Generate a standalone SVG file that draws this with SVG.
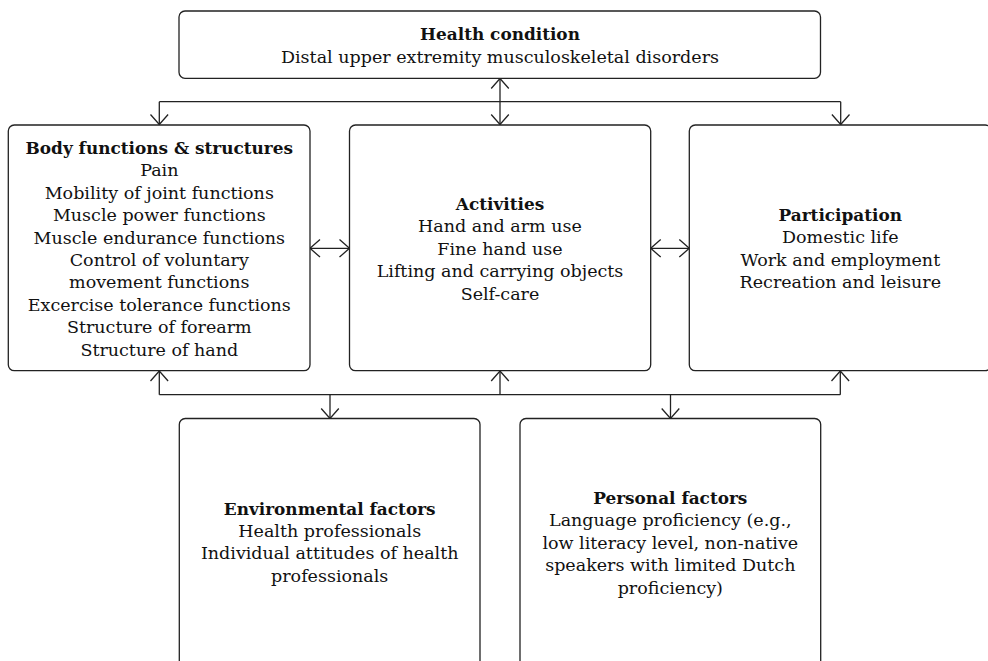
<svg xmlns="http://www.w3.org/2000/svg" width="988" height="661" viewBox="0 0 988 661">
<defs>
<style>
.box{fill:#fff;stroke:#222;stroke-width:1.3}
.ln{fill:none;stroke:#222;stroke-width:1.3}
text{font-family:"DejaVu Serif","Liberation Serif",serif;font-size:17.5px;fill:#111;text-anchor:middle}
.b{font-weight:bold;font-size:16.9px}
</style>
<marker id="ah" markerUnits="userSpaceOnUse" orient="auto-start-reverse" overflow="visible" markerWidth="20" markerHeight="20" refX="0" refY="0">
<path d="M-10,-8.8 L0,0 L-10,8.8" fill="none" stroke="#222" stroke-width="1.3"/>
</marker>
</defs>
<rect width="988" height="661" fill="#fff"/>
<g id="connectors">
<path class="ln" d="M159.3,101.7 H840.7"/>
<path class="ln" d="M159.3,101.7 V124.5" marker-end="url(#ah)"/>
<path class="ln" d="M840.7,101.7 V124.5" marker-end="url(#ah)"/>
<path class="ln" d="M500,78.5 V124.5" marker-start="url(#ah)" marker-end="url(#ah)"/>
<path class="ln" d="M310,248.3 H349.5" marker-start="url(#ah)" marker-end="url(#ah)"/>
<path class="ln" d="M650.7,248.3 H689.3" marker-start="url(#ah)" marker-end="url(#ah)"/>
<path class="ln" d="M159.3,394.7 H840.3"/>
<path class="ln" d="M159.3,394.7 V371" marker-end="url(#ah)"/>
<path class="ln" d="M500,394.7 V371" marker-end="url(#ah)"/>
<path class="ln" d="M840.3,394.7 V371" marker-end="url(#ah)"/>
<path class="ln" d="M330,394.7 V418.5" marker-end="url(#ah)"/>
<path class="ln" d="M670.5,394.7 V418.5" marker-end="url(#ah)"/>
</g>
<g id="health">
<rect class="box" x="179" y="11" width="641.5" height="67.3" rx="6"/>
<text x="500" y="40" class="b">Health condition</text>
<text x="500" y="62.5">Distal upper extremity musculoskeletal disorders</text>
</g>
<g id="body">
<rect class="box" x="8.3" y="125" width="301.7" height="245.7" rx="6"/>
<text x="159.3" y="154" class="b">Body functions &amp; structures</text>
<text x="159.3" y="176.4">Pain</text>
<text x="159.3" y="198.8">Mobility of joint functions</text>
<text x="159.3" y="221.2">Muscle power functions</text>
<text x="159.3" y="243.6">Muscle endurance functions</text>
<text x="159.3" y="266">Control of voluntary</text>
<text x="159.3" y="288.4">movement functions</text>
<text x="159.3" y="310.8">Excercise tolerance functions</text>
<text x="159.3" y="333.2">Structure of forearm</text>
<text x="159.3" y="355.6">Structure of hand</text>
</g>
<g id="activities">
<rect class="box" x="349.5" y="125" width="301.2" height="245.7" rx="6"/>
<text x="500" y="210" class="b">Activities</text>
<text x="500" y="232.4">Hand and arm use</text>
<text x="500" y="254.8">Fine hand use</text>
<text x="500" y="277.2">Lifting and carrying objects</text>
<text x="500" y="299.6">Self-care</text>
</g>
<g id="participation">
<rect class="box" x="689.3" y="125" width="302" height="245.7" rx="6"/>
<text x="840.3" y="221" class="b">Participation</text>
<text x="840.3" y="243.4">Domestic life</text>
<text x="840.3" y="265.8">Work and employment</text>
<text x="840.3" y="288.2">Recreation and leisure</text>
</g>
<g id="environmental">
<rect class="box" x="179.3" y="418.5" width="300.7" height="260" rx="6"/>
<text x="329.7" y="514.5" class="b">Environmental factors</text>
<text x="329.7" y="536.9">Health professionals</text>
<text x="329.7" y="559.3">Individual attitudes of health</text>
<text x="329.7" y="581.7">professionals</text>
</g>
<g id="personal">
<rect class="box" x="520" y="418.5" width="300.7" height="260" rx="6"/>
<text x="670.3" y="504" class="b">Personal factors</text>
<text x="670.3" y="526.4">Language proficiency (e.g.,</text>
<text x="670.3" y="548.8">low literacy level, non-native</text>
<text x="670.3" y="571.2">speakers with limited Dutch</text>
<text x="670.3" y="593.6">proficiency)</text>
</g>
</svg>
